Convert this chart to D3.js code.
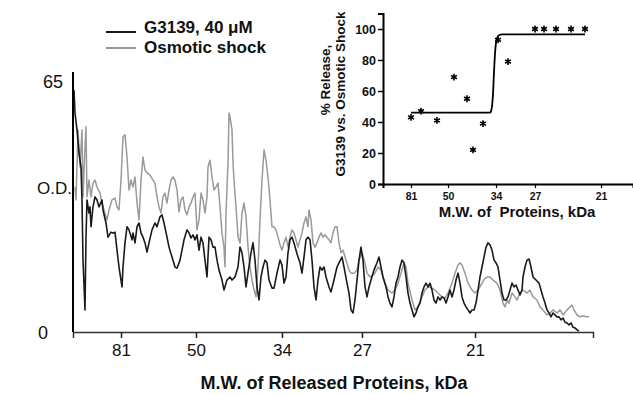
<!DOCTYPE html>
<html><head><meta charset="utf-8">
<script src="https://cdn.jsdelivr.net/npm/d3@7"></script>
<style>body{margin:0;background:#fff;}svg{display:block;font-family:"Liberation Sans",Arial,sans-serif;}</style>
</head><body>
<svg id="c" width="633" height="395"></svg>
<script>
// ---------- main chart data (lane position, O.D.) ----------
const xTickPos = [48, 123, 209, 289, 402];
const xTickLabels = ["81", "50", "34", "27", "21"];
const yTickVals = [0, 65];
const seriesNames = ["G3139, 40 \u03bcM", "Osmotic shock"];

const blackPos = [1,2,4,6,8,9,10,12,13,14,16,17,18,20,22,24,26,29,30,33,35,38,40,42,44,46,49,50,52,54,56,59,60,62,64,66,68,70,72,74,76,79,82,84,87,89,91,94,96,99,102,104,107,109,111,114,116,118,120,122,124,126,128,130,132,134,136,138,140,142,144,146,149,151,154,157,159,162,165,167,169,171,173,175,178,180,182,184,186,188,190,192,194,196,199,201,204,207,209,211,213,215,217,219,221,223,225,227,229,231,233,235,237,239,241,243,245,247,249,251,253,256,258,261,264,266,269,271,274,276,278,280,282,284,286,288,290,292,294,296,298,301,304,306,308,310,313,315,317,319,321,323,325,327,329,331,333,335,337,339,341,343,345,347,349,351,353,355,357,359,361,363,365,367,369,371,373,375,377,379,381,383,385,387,389,391,393,395,397,399,401,403,405,407,409,411,413,415,417,419,421,423,425,427,429,431,433,435,437,439,441,443,445,447,449,450,452,454,456,458,460,463,466,468,470,472,474,476,478,480,482,484,486,488,490,492,494,496,498,500,502,504,506];
const blackOD = [62.9,56.9,52.5,46.5,42.8,34.2,18.5,5.5,24.5,34.2,30.8,32.4,27.2,32.4,35.0,34.2,32.4,34.2,31.6,28.2,24.5,25.8,25.6,25.8,21.1,16.7,11.5,16.7,23.0,27.2,26.4,23.8,25.6,23.0,27.2,28.2,25.6,24.5,23.0,20.6,23.0,26.4,28.2,27.2,29.8,30.3,28.2,24.5,21.9,19.3,16.7,16.4,18.5,21.1,23.8,26.4,25.6,24.3,25.1,23.8,25.1,21.1,24.5,23.0,18.5,14.1,24.5,23.8,21.9,21.9,18.5,15.9,13.3,10.7,13.3,14.1,13.3,14.1,16.7,21.9,20.4,16.7,11.5,15.1,20.4,23.0,18.5,11.5,8.1,14.1,16.7,18.5,17.8,13.3,11.2,11.2,15.1,18.5,17.2,12.5,14.1,20.4,23.8,24.5,23.0,21.1,19.3,17.8,15.1,19.3,23.8,24.5,23.8,18.5,11.5,8.1,13.3,16.7,15.9,16.7,14.1,11.5,10.2,13.3,16.7,17.8,19.3,16.7,12.5,9.9,5.5,4.7,8.1,13.3,18.5,21.9,18.5,11.5,8.9,11.5,13.3,15.9,17.8,19.3,16.7,14.1,11.5,8.9,7.3,6.3,8.9,12.5,14.1,16.7,18.5,17.8,14.1,9.9,7.3,5.5,3.7,4.7,6.3,7.3,9.9,11.5,12.5,11.5,12.5,10.7,8.1,7.3,8.9,8.1,8.9,8.6,7.3,8.9,10.7,8.9,10.7,13.3,15.1,12.5,8.9,7.3,6.3,5.5,4.7,5.5,5.5,7.3,10.7,14.1,16.7,19.3,21.9,23.0,22.5,21.1,18.5,17.8,16.7,13.3,9.9,8.1,8.1,8.9,10.7,12.5,11.5,12.0,10.7,9.4,10.7,14.1,16.7,18.5,18.8,16.7,14.1,13.3,12.5,10.7,8.9,7.3,5.5,4.7,3.7,4.7,4.2,3.7,3.7,2.9,3.4,2.3,2.1,1.6,2.1,1.0,0.8,0.3,0];

const grayPos = [2,3,5,7,9,10,12,13,14,16,18,20,22,24,27,29,31,34,36,39,42,44,46,48,50,52,54,56,58,60,62,64,66,68,70,72,74,77,80,82,84,86,88,90,92,94,96,98,100,102,104,106,108,110,112,114,116,118,120,122,124,126,128,130,132,134,135,137,139,141,143,145,147,149,151,152,153,155,156,157,159,160,161,163,165,167,169,171,173,175,177,179,181,183,185,187,189,191,193,195,197,199,201,203,205,207,209,211,213,215,217,219,221,223,225,227,229,231,233,235,236,238,240,242,244,246,248,250,252,254,256,258,260,262,264,266,268,270,273,276,278,281,284,286,289,292,294,297,300,302,305,308,310,312,315,319,322,325,329,331,333,335,339,342,345,349,352,355,359,362,365,369,372,375,379,382,385,387,389,392,395,399,402,405,409,412,415,417,420,424,427,430,432,434,436,439,442,444,447,450,454,457,460,464,467,470,474,477,480,484,487,490,494,497,499,501,504,507,510,514,516];
const grayOD = [37.6,34.2,52.5,42.8,52.5,35.0,48.0,53.3,35.0,39.4,35.0,38.6,39.4,37.6,36.0,33.4,31.6,29.0,31.6,34.2,34.7,32.4,31.6,39.4,50.7,51.2,45.4,36.8,39.4,37.6,40.2,33.4,29.0,39.4,45.4,42.0,41.3,40.7,39.4,38.6,35.0,32.4,30.8,35.0,36.0,33.4,36.8,39.4,40.2,39.4,36.8,31.1,34.2,35.0,31.6,30.3,32.4,33.4,35.0,36.0,26.4,29.0,36.0,34.2,30.8,35.0,42.8,44.6,40.2,36.8,37.6,38.6,32.4,25.6,21.9,16.7,30.8,43.9,56.9,55.9,52.5,43.9,39.4,32.4,24.5,23.0,30.8,33.4,29.8,21.9,16.7,13.3,10.7,8.9,16.7,29.0,39.4,47.3,44.6,40.2,34.2,27.2,27.2,26.4,24.5,22.5,21.1,23.0,24.5,21.9,24.5,26.4,25.6,23.8,21.9,23.8,25.6,28.2,29.8,27.2,31.6,29.0,23.0,21.9,23.0,24.5,25.6,24.5,25.1,24.5,23.8,23.0,25.6,27.2,27.2,23.0,20.4,21.1,18.5,15.9,15.1,15.1,15.9,18.5,20.4,17.8,15.1,14.1,14.6,15.1,16.7,15.9,14.1,12.5,10.7,9.9,10.7,12.5,15.9,17.8,16.7,12.5,8.1,5.5,6.3,8.9,10.7,11.5,11.2,10.7,9.9,8.9,8.6,9.9,12.5,15.1,17.2,17.8,17.2,15.1,12.5,10.7,9.9,10.7,12.5,13.8,14.1,14.1,13.3,12.5,10.7,7.3,6.3,8.1,7.3,9.9,8.9,8.1,9.9,10.7,9.9,10.7,8.9,8.1,6.3,5.5,4.2,4.7,5.5,4.7,5.5,4.2,5.5,6.3,6.8,5.5,4.2,3.7,3.9,3.7,3.7];

// ---------- inset data ----------
const insetTickPos = [28, 65, 113, 152, 218];
const insetTickLabels = ["81", "50", "34", "27", "21"];
const insetYTicks = [0, 20, 40, 60, 80, 100];
const releasePos = [28, 38, 54, 71, 84, 90, 100, 115, 125, 152, 161, 173, 188, 202];
const releasePct = [43, 47, 41, 69, 55, 22, 39, 93, 79, 100, 100, 100, 100, 100];
const fitPos = [28, 60, 107, 108, 109, 110, 111, 112, 113, 114, 116, 119, 202];
const fitPct = [46, 46, 46, 47, 50, 58, 72, 84, 91, 94, 96, 96.5, 96.5];

const svg = d3.select("#c");

// ---------- main chart ----------
const x = d3.scaleLinear().domain([0, 520]).range([73, 593]);
const y = d3.scaleLinear().domain([0, 65]).range([331, 82]);

const line = d3.line().x(d => x(d[0])).y(d => y(d[1]));
const grayData = grayPos.map((p, i) => [p, grayOD[i]]);
const blackData = blackPos.map((p, i) => [p, blackOD[i]]);

svg.append("path").datum(grayData).attr("d", line)
  .attr("fill", "none").attr("stroke", "#999").attr("stroke-width", 1.5).attr("stroke-linejoin", "round");
svg.append("path").datum(blackData).attr("d", line)
  .attr("fill", "none").attr("stroke", "#1a1a1a").attr("stroke-width", 1.6).attr("stroke-linejoin", "round");

// x axis
const xAxis = svg.append("g").attr("transform", `translate(0,${y(0) + 1})`)
  .call(d3.axisBottom(x).tickValues(xTickPos).tickFormat((d, i) => xTickLabels[i]).tickSizeOuter(0).tickSize(6).tickPadding(6));
xAxis.select(".domain").attr("stroke", "#333").attr("stroke-width", 1.5);
xAxis.selectAll(".tick line").attr("stroke", "#222").attr("stroke-width", 1.5);
xAxis.selectAll(".tick text").attr("font-size", 17).attr("fill", "#111").attr("font-family", "Liberation Sans, Arial");

// y axis line
svg.append("line").attr("x1", x(0)).attr("x2", x(0)).attr("y1", y(65) - 10).attr("y2", y(0) + 1)
  .attr("stroke", "#000").attr("stroke-width", 2);
svg.append("text").attr("x", 63).attr("y", y(65) + 6).attr("text-anchor", "end")
  .attr("font-size", 18).attr("fill", "#111").text(String(yTickVals[1]));
svg.append("text").attr("x", 48).attr("y", y(0) + 8).attr("text-anchor", "end")
  .attr("font-size", 18).attr("fill", "#111").text(String(yTickVals[0]));
svg.append("text").attr("x", 37).attr("y", 194).attr("font-size", 17).attr("fill", "#111").text("O.D.");

svg.append("text").attr("x", 334).attr("y", 389).attr("text-anchor", "middle")
  .attr("font-size", 18).attr("font-weight", "bold").attr("fill", "#111").text("M.W. of Released Proteins, kDa");

// legend
const legColors = ["#1a1a1a", "#999"];
const legLineY = [32, 48];
const legTextY = [33, 53];
seriesNames.forEach((n, i) => {
  svg.append("line").attr("x1", 106).attr("x2", 136).attr("y1", legLineY[i]).attr("y2", legLineY[i])
    .attr("stroke", legColors[i]).attr("stroke-width", 2);
  svg.append("text").attr("x", 144).attr("y", legTextY[i]).attr("font-size", 17).attr("font-weight", "bold")
    .attr("fill", "#111").text(n);
});

// ---------- inset ----------
const xi = d3.scaleLinear().domain([0, 250]).range([383, 633]);
const yi = d3.scaleLinear().domain([0, 110]).range([184, 13.5]);

const yAxisI = svg.append("g").attr("transform", "translate(383,0)")
  .call(d3.axisLeft(yi).tickValues(insetYTicks).tickSizeOuter(0).tickSize(5).tickPadding(2));
yAxisI.select(".domain").attr("stroke", "#000").attr("stroke-width", 2);
yAxisI.selectAll(".tick line").attr("stroke", "#000").attr("stroke-width", 1.5);
yAxisI.selectAll(".tick text").attr("font-size", 12.5).attr("font-weight", "bold").attr("fill", "#111").attr("font-family", "Liberation Sans, Arial");

const xAxisI = svg.append("g").attr("transform", "translate(0,184)")
  .call(d3.axisBottom(xi).tickValues(insetTickPos).tickFormat((d, i) => insetTickLabels[i]).tickSizeOuter(0).tickSize(4).tickPadding(5));
xAxisI.select(".domain").attr("stroke", "#000").attr("stroke-width", 2);
xAxisI.selectAll(".tick line").attr("stroke", "#000").attr("stroke-width", 1.2);
xAxisI.selectAll(".tick text").attr("font-size", 10.5).attr("font-weight", "bold").attr("fill", "#111").attr("font-family", "Liberation Sans, Arial");

const fitLine = d3.line().x(d => xi(d[0])).y(d => yi(d[1])).curve(d3.curveMonotoneX);
svg.append("path").datum(fitPos.map((p, i) => [p, fitPct[i]])).attr("d", fitLine)
  .attr("fill", "none").attr("stroke", "#000").attr("stroke-width", 1.8);

const sym = d3.symbol().type(d3.symbolAsterisk).size(32);
svg.append("g").selectAll("path").data(releasePos.map((p, i) => [p, releasePct[i]])).join("path")
  .attr("d", sym).attr("transform", d => `translate(${xi(d[0])},${yi(d[1])})`)
  .attr("fill", "none").attr("stroke", "#000").attr("stroke-width", 1.6);

const gt = svg.append("g").attr("transform", "rotate(-90)");
gt.append("text").attr("x", -80).attr("y", 330).attr("text-anchor", "middle").attr("font-size", 13.5)
  .attr("font-weight", "bold").attr("fill", "#111").text("% Release,");
gt.append("text").attr("x", -94).attr("y", 345).attr("text-anchor", "middle").attr("font-size", 13.5)
  .attr("font-weight", "bold").attr("fill", "#111").text("G3139 vs. Osmotic Shock");

svg.append("text").attr("x", 517).attr("y", 217).attr("text-anchor", "middle").attr("font-size", 15)
  .attr("font-weight", "bold").attr("fill", "#111").attr("xml:space", "preserve").text("M.W. of  Proteins, kDa");
</script>
</body></html>
